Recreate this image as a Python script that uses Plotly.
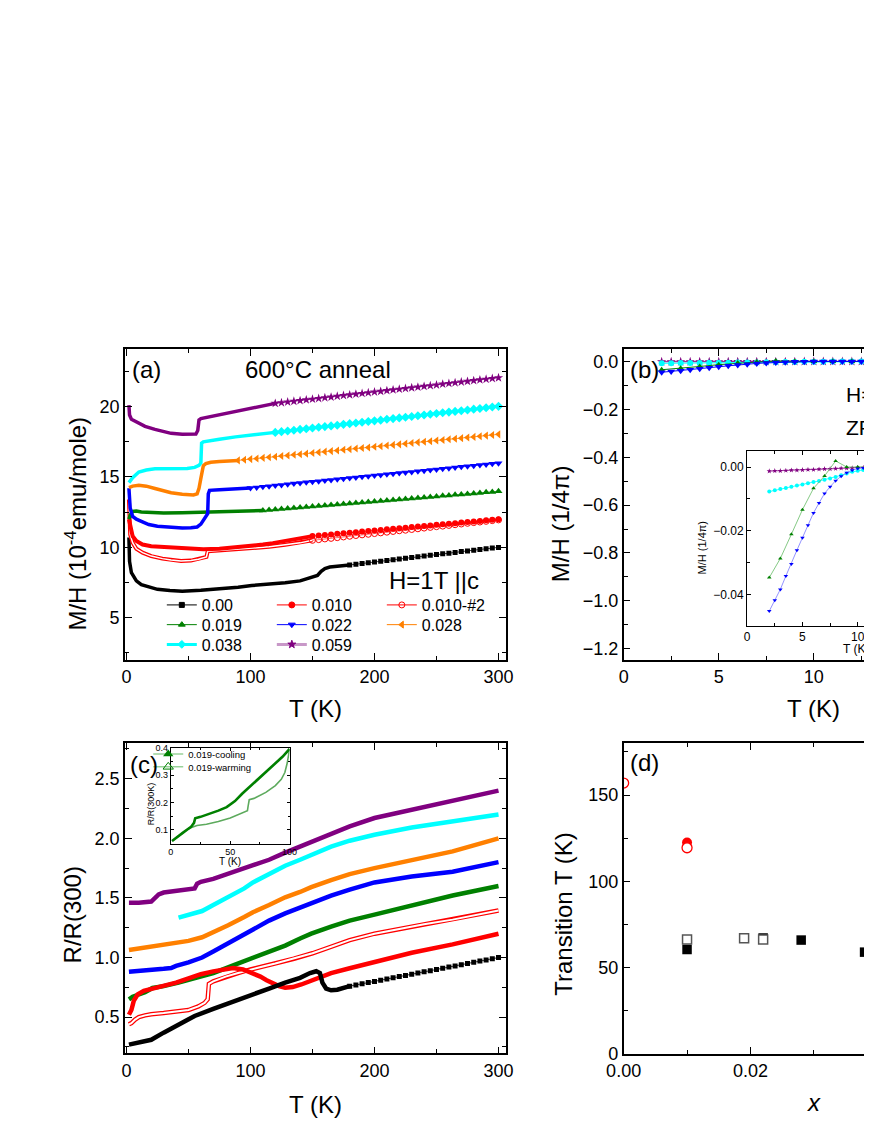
import plotly.graph_objects as go

W, H = 872, 1128
FONT = "Liberation Sans, Arial, sans-serif"

# ---------------- (a) M/H vs T, H = 1 T || c ----------------
a_labels = ["0.00", "0.010", "0.010-#2", "0.019", "0.022", "0.028", "0.038", "0.059"]

# dense low-T parts
a_t_000 = [2, 2.5, 4, 8, 12, 18, 25, 35, 45, 60, 75, 90, 101, 115, 128, 140, 149, 154, 157, 160, 164, 170, 180]
a_m_000 = [10.7, 9.0, 8.2, 7.62, 7.35, 7.17, 7.02, 6.93, 6.88, 6.95, 7.05, 7.16, 7.29, 7.38, 7.48, 7.62, 7.85, 8.0, 8.3, 8.5, 8.6, 8.68, 8.75]
a_t_010 = [2, 3, 5, 8, 13, 20, 36, 50, 62, 75, 90, 101, 110, 118, 124, 128, 134, 140, 148, 150]
a_m_010 = [12.0, 11.5, 10.8, 10.45, 10.2, 10.08, 9.98, 9.9, 9.86, 9.9, 10.0, 10.12, 10.2, 10.3, 10.4, 10.46, 10.58, 10.68, 10.76, 10.8]
a_t_010b = [2, 2.5, 3, 5, 8, 13, 20, 29, 36, 44, 52, 58, 62.5, 64.5, 65.5, 75, 90, 101, 115, 128, 140, 150]
a_m_010b = [13.4, 11.3, 10.9, 10.33, 9.9, 9.63, 9.38, 9.2, 9.1, 9.04, 9.06, 9.15, 9.27, 9.32, 9.72, 9.78, 9.85, 9.92, 10.04, 10.18, 10.32, 10.5]
a_t_019 = [2, 3, 5, 8, 12, 20, 30, 45, 60, 75, 90, 100, 110]
a_m_019 = [12.0, 12.3, 12.55, 12.58, 12.52, 12.47, 12.45, 12.46, 12.5, 12.53, 12.56, 12.59, 12.62]
a_t_022 = [2, 2.5, 3, 5, 8, 12, 18, 25, 36, 45, 52, 57, 60, 62.5, 64.5, 65.5, 66, 67, 75, 85, 100]
a_m_022 = [14.2, 13.2, 12.8, 12.2, 12.0, 11.85, 11.62, 11.5, 11.4, 11.38, 11.4, 11.45, 11.65, 11.96, 12.3, 12.4, 13.8, 14.05, 14.1, 14.15, 14.22]
a_t_028 = [2, 5, 10, 16, 23, 30, 36, 45, 54, 57, 58.5, 60, 61, 62, 64, 68, 75, 82, 90]
a_m_028 = [14.25, 14.35, 14.42, 14.35, 14.18, 14.0, 13.88, 13.78, 13.72, 13.8, 14.2, 14.9, 15.4, 15.8, 15.95, 16.05, 16.1, 16.14, 16.18]
a_t_038 = [2, 5, 10, 16, 23, 35, 49, 55, 58.5, 60, 60.6, 62, 68, 75, 88, 101, 112, 120]
a_m_038 = [14.6, 14.95, 15.35, 15.5, 15.58, 15.58, 15.6, 15.68, 15.82, 16.0, 17.4, 17.5, 17.6, 17.68, 17.85, 18.0, 18.1, 18.17]
a_t_059 = [2, 2.5, 4, 7, 10, 15, 23, 30, 36, 45, 52, 56, 57.5, 58.5, 60, 68, 75, 88, 101, 112, 120]
a_m_059 = [20.1, 19.4, 19.1, 18.95, 18.85, 18.6, 18.38, 18.2, 18.1, 18.03, 18.02, 18.05, 18.3, 19.05, 19.15, 19.3, 19.44, 19.68, 19.9, 20.1, 20.23]

# sparse high-T parts (one point every 5 K)
a_ts_000 = list(range(180, 301, 5))
a_ms_000 = [8.75, 8.80, 8.85, 8.91, 8.96, 9.01, 9.07, 9.12, 9.18, 9.23, 9.28, 9.33, 9.39, 9.44, 9.49,
            9.54, 9.59, 9.64, 9.70, 9.75, 9.80, 9.85, 9.90, 9.95, 10.0]
a_ts_010 = list(range(150, 301, 5))
a_ms_010 = [10.80, 10.84, 10.88, 10.92, 10.96, 11.00, 11.04, 11.08, 11.12, 11.16, 11.20, 11.24, 11.28, 11.32,
            11.36, 11.40, 11.44, 11.48, 11.52, 11.56, 11.60, 11.64, 11.68, 11.72, 11.76, 11.80, 11.84, 11.88,
            11.92, 11.96, 12.0]
a_ts_010b = list(range(150, 301, 5))
a_ms_010b = [10.50, 10.55, 10.60, 10.64, 10.69, 10.74, 10.79, 10.84, 10.89, 10.93, 10.98, 11.03, 11.08, 11.13,
             11.18, 11.22, 11.27, 11.32, 11.37, 11.42, 11.47, 11.51, 11.56, 11.61, 11.66, 11.71, 11.76, 11.80,
             11.85, 11.90, 11.95]
a_ts_019 = list(range(110, 301, 5))
a_ms_019 = [12.62, 12.66, 12.69, 12.73, 12.76, 12.80, 12.83, 12.87, 12.91, 12.94, 12.98, 13.01, 13.05, 13.08,
            13.12, 13.16, 13.19, 13.23, 13.26, 13.30, 13.33, 13.37, 13.41, 13.44, 13.48, 13.51, 13.55, 13.58,
            13.62, 13.66, 13.69, 13.73, 13.76, 13.80, 13.83, 13.87, 13.91, 13.94, 13.98]
a_ts_022 = list(range(100, 301, 5))
a_ms_022 = [14.22, 14.26, 14.31, 14.35, 14.40, 14.44, 14.48, 14.53, 14.57, 14.62, 14.66, 14.70, 14.75, 14.79,
            14.84, 14.88, 14.92, 14.97, 15.01, 15.06, 15.10, 15.14, 15.19, 15.23, 15.28, 15.32, 15.36, 15.41,
            15.45, 15.50, 15.54, 15.58, 15.63, 15.67, 15.72, 15.76, 15.80, 15.85, 15.89, 15.94, 15.98]
a_ts_028 = list(range(90, 301, 5))
a_ms_028 = [16.18, 16.22, 16.27, 16.31, 16.36, 16.40, 16.44, 16.49, 16.53, 16.58, 16.62, 16.66, 16.71, 16.75,
            16.80, 16.84, 16.88, 16.93, 16.97, 17.02, 17.06, 17.10, 17.15, 17.19, 17.24, 17.28, 17.32, 17.37,
            17.41, 17.46, 17.50, 17.54, 17.59, 17.63, 17.68, 17.72, 17.76, 17.81, 17.85, 17.90, 17.94, 17.98, 18.03]
a_ts_038 = list(range(120, 301, 5))
a_ms_038 = [18.17, 18.22, 18.27, 18.32, 18.38, 18.43, 18.48, 18.53, 18.58, 18.63, 18.68, 18.74, 18.79, 18.84,
            18.89, 18.94, 18.99, 19.04, 19.10, 19.15, 19.20, 19.25, 19.30, 19.35, 19.40, 19.46, 19.51, 19.56,
            19.61, 19.66, 19.71, 19.76, 19.82, 19.87, 19.92, 19.97, 20.02]
a_ts_059 = list(range(120, 301, 5))
a_ms_059 = [20.23, 20.28, 20.33, 20.38, 20.43, 20.48, 20.53, 20.58, 20.63, 20.68, 20.74, 20.79, 20.84, 20.89,
            20.94, 20.99, 21.04, 21.09, 21.14, 21.19, 21.24, 21.29, 21.34, 21.39, 21.44, 21.49, 21.54, 21.60,
            21.65, 21.70, 21.75, 21.80, 21.85, 21.90, 21.95, 22.00, 22.05]

# ---------------- (b) ZF M/H (1/4pi) vs T ----------------
b_t = [2.0, 2.5, 3.0, 3.5, 4.0, 4.5, 5.0, 5.5, 6.0, 6.5, 7.0, 7.5, 8.0, 8.5, 9.0, 9.5, 10.0,
       10.5, 11.0, 11.5, 12.0, 12.5, 13.0, 13.5]
b_t_019 = [2, 3, 4, 5, 6, 7, 8, 9, 10, 11, 12, 13]
b_m_019 = [-0.0347, -0.0287, -0.0211, -0.0134, -0.0067, -0.0028, 0.0019, 0.0, 0.0, 0.0, 0.0, 0.0]
b_m_022 = [-0.0452, -0.0418, -0.0384, -0.0342, -0.0304, -0.0261, -0.0222, -0.0183, -0.0144, -0.0113,
           -0.0083, -0.0062, -0.0043, -0.0029, -0.0018, -0.0010, -0.0005, -0.0003, -0.0002, -0.0001,
           -0.0001, 0.0, 0.0, 0.0]
b_m_038 = [-0.0077, -0.0073, -0.0069, -0.0066, -0.0062, -0.0058, -0.0055, -0.0051, -0.0047, -0.0044,
           -0.0040, -0.0036, -0.0031, -0.0026, -0.0020, -0.0015, -0.0012, -0.0009, -0.0007, -0.0005,
           -0.0004, -0.0003, -0.0002, -0.0001]
b_m_059 = [-0.0013, -0.0012, -0.0012, -0.0011, -0.0010, -0.0010, -0.0009, -0.0008, -0.0008, -0.0007,
           -0.0006, -0.0006, -0.0005, -0.0004, -0.0004, -0.0003, -0.0002, -0.0002, -0.0001, -0.0001,
           -0.0001, 0.0, 0.0, 0.0]

# ---------------- (c) R/R(300) vs T ----------------
c_t_000 = [2, 10, 20, 30, 42, 55, 70, 85, 101, 115, 128, 140, 148, 153, 156, 158, 161, 165, 170, 175, 180]
c_r_000 = [0.27, 0.285, 0.31, 0.37, 0.44, 0.51, 0.57, 0.63, 0.69, 0.74, 0.79, 0.83, 0.87, 0.885, 0.87,
           0.79, 0.74, 0.725, 0.73, 0.745, 0.76]
c_ts_000 = list(range(180, 301, 5))
c_rs_000 = [0.76, 0.77, 0.78, 0.79, 0.80, 0.81, 0.82, 0.83, 0.84, 0.85, 0.86, 0.87, 0.88, 0.89, 0.90,
            0.91, 0.92, 0.93, 0.94, 0.95, 0.96, 0.97, 0.98, 0.99, 1.00]
c_t_010 = [2, 4, 6, 9, 14, 20, 29, 40, 50, 60, 70, 78, 86, 94, 102, 108, 113, 118, 123, 128, 134, 141,
           148, 154, 165, 180, 200, 230, 263, 300]
c_r_010 = [0.52, 0.56, 0.64, 0.69, 0.72, 0.74, 0.76, 0.79, 0.83, 0.86, 0.884, 0.90, 0.912, 0.90, 0.87,
           0.84, 0.81, 0.78, 0.76, 0.747, 0.752, 0.774, 0.80, 0.83, 0.87, 0.91, 0.965, 1.04, 1.11, 1.20]
c_t_010b = [2, 4, 7, 10, 15, 20, 30, 40, 50, 58, 63, 65.5, 66.5, 70, 80, 90, 100, 110, 120, 135, 150,
            165, 180, 200, 220, 240, 263, 280, 300]
c_r_010b = [0.44, 0.45, 0.48, 0.50, 0.515, 0.525, 0.535, 0.545, 0.56, 0.59, 0.62, 0.65, 0.78, 0.80, 0.84,
            0.87, 0.90, 0.925, 0.95, 0.99, 1.036, 1.09, 1.146, 1.20, 1.24, 1.28, 1.318, 1.355, 1.395]
c_t_019 = [2, 5, 10, 15, 21, 30, 42, 55, 70, 85, 102, 115, 128, 140, 149, 165, 180, 200, 230, 263, 300]
c_r_019 = [0.65, 0.67, 0.69, 0.71, 0.745, 0.76, 0.79, 0.83, 0.87, 0.93, 0.995, 1.05, 1.10, 1.16, 1.20,
           1.26, 1.31, 1.36, 1.44, 1.52, 1.60]
c_t_022 = [2, 10, 20, 30, 36, 40, 50, 61, 70, 82, 95, 102, 115, 128, 140, 149, 165, 180, 200, 230, 263, 300]
c_r_022 = [0.88, 0.885, 0.895, 0.905, 0.912, 0.93, 0.96, 1.0, 1.05, 1.12, 1.20, 1.24, 1.31, 1.37, 1.42,
           1.46, 1.52, 1.57, 1.63, 1.68, 1.72, 1.80]
c_t_028 = [2, 20, 40, 50, 61, 70, 82, 95, 102, 115, 128, 140, 149, 165, 180, 200, 230, 263, 300]
c_r_028 = [1.064, 1.09, 1.12, 1.14, 1.17, 1.21, 1.27, 1.34, 1.38, 1.44, 1.505, 1.55, 1.59, 1.65, 1.70,
           1.75, 1.82, 1.89, 2.0]
c_t_038 = [42, 50, 61, 70, 82, 95, 102, 115, 128, 140, 149, 165, 180, 200, 230, 263, 300]
c_r_038 = [1.334, 1.36, 1.39, 1.44, 1.505, 1.58, 1.63, 1.70, 1.77, 1.82, 1.86, 1.93, 1.98, 2.03, 2.09,
           2.14, 2.20]
c_t_059 = [2, 10, 20, 23, 26, 30, 40, 50, 55, 57, 60, 70, 85, 102, 115, 128, 140, 149, 165, 180, 200,
           230, 263, 300]
c_r_059 = [1.46, 1.46, 1.47, 1.50, 1.53, 1.545, 1.56, 1.57, 1.58, 1.62, 1.635, 1.66, 1.71, 1.77, 1.82,
           1.88, 1.93, 1.97, 2.04, 2.10, 2.17, 2.24, 2.31, 2.40]

# inset of (c): x = 0.019 cooling / warming
ci_t_cool = [1, 5, 10, 15, 17, 19.5, 20.5, 25, 33, 40, 47, 54, 60, 67, 74, 80, 87, 94, 100]
ci_r_cool = [0.058, 0.07, 0.088, 0.104, 0.11, 0.125, 0.142, 0.147, 0.158, 0.17, 0.183, 0.205, 0.232,
             0.26, 0.29, 0.313, 0.34, 0.368, 0.397]
ci_t_warm = [1, 5, 10, 15, 18, 22, 30, 40, 50, 58, 64.5, 65, 66, 70, 75, 80, 88, 93, 96, 98, 100]
ci_r_warm = [0.058, 0.07, 0.088, 0.104, 0.11, 0.115, 0.12, 0.13, 0.143, 0.157, 0.17, 0.185, 0.21, 0.215,
             0.225, 0.237, 0.262, 0.285, 0.31, 0.345, 0.397]

# ---------------- (d) transition temperature vs x ----------------
d_x_red_open = [0.0, 0.010]
d_t_red_open = [157, 119.5]
d_x_red = [0.010]
d_t_red = [122.5]
d_x_sq = [0.010, 0.022, 0.028, 0.038]
d_t_sq = [60.5, 67.2, 66.0, 59.0]
d_x_sq_open = [0.010, 0.019, 0.022]
d_t_sq_open = [66.3, 67.0, 66.3]

BLACK, RED, GREEN, BLUE = "#000000", "#FF0000", "#008000", "#0000FF"
ORANGE, CYAN, PURPLE = "#FF8000", "#00FFFF", "#800080"


def fx(p):
    return p / W


def fy(p):
    return 1 - p / H


fig = go.Figure()


def dense(x, y, xa, ya, color, width):
    fig.add_trace(go.Scatter(x=x, y=y, xaxis=xa, yaxis=ya, mode="lines", showlegend=False,
                             line=dict(color=color, width=width)))


def sparse(x, y, xa, ya, color, symbol, size, lw=0.8):
    fig.add_trace(go.Scatter(x=x, y=y, xaxis=xa, yaxis=ya, mode="lines+markers", showlegend=False,
                             line=dict(color=color, width=lw),
                             marker=dict(symbol=symbol, size=size, color=color, line=dict(width=0))))


def key(name, legend, color, symbol, size, lw=1.0, lcolor=None):
    fig.add_trace(go.Scatter(x=[None], y=[None], xaxis="x", yaxis="y", mode="lines+markers", name=name,
                             legend=legend, line=dict(color=lcolor or color, width=lw),
                             marker=dict(symbol=symbol, size=size, color=color,
                                         line=dict(color=color, width=1))))


# ---- (a)
dense(a_t_000, a_m_000, "x", "y", BLACK, 3.5)
sparse(a_ts_000, a_ms_000, "x", "y", BLACK, "square", 5)
dense(a_t_010b, a_m_010b, "x", "y", RED, 4)
dense(a_t_010b, a_m_010b, "x", "y", "white", 1.5)
fig.add_trace(go.Scatter(x=a_ts_010b, y=a_ms_010b, mode="lines+markers", showlegend=False,
                         line=dict(color=RED, width=0.6),
                         marker=dict(symbol="circle-open", size=6, color=RED, line=dict(width=1))))
dense(a_t_010, a_m_010, "x", "y", RED, 4)
sparse(a_ts_010, a_ms_010, "x", "y", RED, "circle", 6)
dense(a_t_019, a_m_019, "x", "y", GREEN, 3.5)
sparse(a_ts_019, a_ms_019, "x", "y", GREEN, "triangle-up", 7)
dense(a_t_022, a_m_022, "x", "y", BLUE, 3.5)
sparse(a_ts_022, a_ms_022, "x", "y", BLUE, "triangle-down", 7)
dense(a_t_028, a_m_028, "x", "y", ORANGE, 3.5)
sparse(a_ts_028, a_ms_028, "x", "y", ORANGE, "triangle-left", 7)
dense(a_t_038, a_m_038, "x", "y", CYAN, 3.5)
sparse(a_ts_038, a_ms_038, "x", "y", CYAN, "diamond", 7)
dense(a_t_059, a_m_059, "x", "y", PURPLE, 3.5)
sparse(a_ts_059, a_ms_059, "x", "y", PURPLE, "star", 7)

key(a_labels[0], "legend", BLACK, "square", 5)
key(a_labels[1], "legend", RED, "circle", 6)
key(a_labels[2], "legend", RED, "circle-open", 6)
key(a_labels[3], "legend2", GREEN, "triangle-up", 6)
key(a_labels[4], "legend2", BLUE, "triangle-down", 6)
key(a_labels[5], "legend2", ORANGE, "triangle-left", 6)
key(a_labels[6], "legend3", CYAN, "diamond", 6, lw=3)
key(a_labels[7], "legend3", PURPLE, "star", 6, lw=3, lcolor="#C898C8")

# ---- (b) main
b_series = [
    (b_t, b_m_059, PURPLE, "star", 7),
    (b_t, b_m_038, CYAN, "circle", 6),
    (b_t_019, b_m_019, GREEN, "triangle-up", 6),
    (b_t, b_m_022, BLUE, "triangle-down", 7),
]
for t, m, col, sym, sz in b_series:
    sparse(t, m, "x2", "y2", col, sym, sz, lw=1)
# ---- (b) inset
bi_lines = {PURPLE: PURPLE, CYAN: CYAN, GREEN: "#66BB66", BLUE: "#7777FF"}
for t, m, col, sym, sz in b_series:
    fig.add_trace(go.Scatter(x=t, y=m, xaxis="x3", yaxis="y3", mode="lines+markers", showlegend=False,
                             line=dict(color=bi_lines[col], width=0.8),
                             marker=dict(symbol=sym, size=4, color=col, line=dict(width=0))))

# ---- (c)
dense(c_t_059, c_r_059, "x4", "y4", PURPLE, 4.5)
dense(c_t_038, c_r_038, "x4", "y4", CYAN, 4.5)
dense(c_t_028, c_r_028, "x4", "y4", ORANGE, 4.5)
dense(c_t_022, c_r_022, "x4", "y4", BLUE, 4.5)
dense(c_t_019, c_r_019, "x4", "y4", GREEN, 4.5)
dense(c_t_010b, c_r_010b, "x4", "y4", RED, 4.5)
dense(c_t_010b, c_r_010b, "x4", "y4", "white", 2)
dense(c_t_010, c_r_010, "x4", "y4", RED, 4.5)
dense(c_t_000, c_r_000, "x4", "y4", BLACK, 4.5)
sparse(c_ts_000, c_rs_000, "x4", "y4", BLACK, "square", 5)

# ---- (c) inset
fig.add_trace(go.Scatter(x=ci_t_warm, y=ci_r_warm, xaxis="x5", yaxis="y5", mode="lines", showlegend=False,
                         line=dict(color="#5DAA5D", width=1.6)))
fig.add_trace(go.Scatter(x=ci_t_cool, y=ci_r_cool, xaxis="x5", yaxis="y5", mode="lines", showlegend=False,
                         line=dict(color=GREEN, width=2.6)))
fig.add_trace(go.Scatter(x=[None], y=[None], xaxis="x5", yaxis="y5", mode="lines+markers",
                         name="0.019-cooling", legend="legend4", line=dict(color="#66BB66", width=1),
                         marker=dict(symbol="triangle-up", size=9, color=GREEN)))
fig.add_trace(go.Scatter(x=[None], y=[None], xaxis="x5", yaxis="y5", mode="lines+markers",
                         name="0.019-warming", legend="legend5", line=dict(color="#66BB66", width=1),
                         marker=dict(symbol="triangle-up-open", size=9, color=GREEN)))

# ---- (d)
fig.add_trace(go.Scatter(x=d_x_red, y=d_t_red, xaxis="x6", yaxis="y6", mode="markers", showlegend=False,
                         marker=dict(symbol="circle", size=10, color=RED, line=dict(width=0))))
fig.add_trace(go.Scatter(x=d_x_red_open, y=d_t_red_open, xaxis="x6", yaxis="y6", mode="markers",
                         showlegend=False,
                         marker=dict(symbol="circle", size=10, color="white", line=dict(color=RED, width=1.3))))
fig.add_trace(go.Scatter(x=d_x_sq, y=d_t_sq, xaxis="x6", yaxis="y6", mode="markers", showlegend=False,
                         marker=dict(symbol="square", size=9.5, color=BLACK, line=dict(width=0))))
fig.add_trace(go.Scatter(x=d_x_sq_open, y=d_t_sq_open, xaxis="x6", yaxis="y6", mode="markers",
                         showlegend=False,
                         marker=dict(symbol="square", size=9, color="white", line=dict(color="#555555", width=1.5))))


def axis(domain, rng, dtick, minor, anchor, size=18, fmt=None, mirror="allticks", tl=7, lw=1.5):
    d = dict(domain=domain, range=rng, dtick=dtick, tick0=0, anchor=anchor, showline=True,
             linecolor="black", linewidth=lw, ticks="inside", ticklen=tl, tickwidth=1.2, tickcolor="black",
             mirror=mirror, showgrid=False, zeroline=False,
             tickfont=dict(family=FONT, size=size, color="black"),
             minor=dict(dtick=minor, tick0=0, ticks="inside", ticklen=tl * 0.6, tickwidth=1,
                        tickcolor="black", showgrid=False))
    if fmt:
        d["tickformat"] = fmt
    return d


A_X = [fx(102), fx(494.7)]
A_Y = [fy(655.7), fy(341)]
B_X = [fx(616), 1.0]
BI_X = [fx(743.3), 1.0]
BI_Y = [fy(621), fy(444.3)]
C_Y = [fy(1054.3), fy(740)]
CI_X = [fx(149.3), fx(271.7)]
CI_Y = [fy(841.7), fy(745)]
D_Y = [fy(1055), fy(740)]


def leg(x, y, size):
    return dict(x=x, y=y, xanchor="left", yanchor="middle", orientation="h", entrywidth=65,
                bgcolor="rgba(0,0,0,0)", font=dict(family=FONT, size=size, color="black"),
                itemclick=False, itemdoubleclick=False)


def note(text, x, y, size, xanchor="left", angle=0, italic=False):
    if italic:
        text = "<i>" + text + "</i>"
    return dict(text=text, x=fx(x), y=fy(y), xref="paper", yref="paper", xanchor=xanchor, yanchor="middle",
                showarrow=False, textangle=angle, font=dict(family=FONT, size=size, color="black"))


fig.update_layout(
    width=W, height=H, margin=dict(l=0, r=0, t=0, b=0),
    paper_bgcolor="white", plot_bgcolor="rgba(0,0,0,0)",
    font=dict(family=FONT, color="black"), hovermode=False,
    xaxis=axis(A_X, [-1.2, 306], 100, 50, "y"),
    yaxis=axis(A_Y, [2.0, 24.06], 5, 2.5, "x"),
    xaxis2=axis(B_X, [0, 13.06], 5, 2.5, "y2"),
    yaxis2=axis(A_Y, [-1.247, 0.05], 0.2, 0.1, "x2", fmt=".1f", mirror=False),
    xaxis3=axis(BI_X, [0, 11.29], 5, 2.5, "y3", size=12, tl=4, lw=1.2),
    yaxis3=axis(BI_Y, [-0.0498, 0.0049], 0.02, 0.01, "x3", size=12, fmt=".2f", mirror=False, tl=4, lw=1.2),
    xaxis4=axis(A_X, [-1.2, 306], 100, 50, "y4"),
    yaxis4=axis(C_Y, [0.197, 2.798], 0.5, 0.25, "x4", fmt=".1f"),
    xaxis5=axis(CI_X, [0, 100], 50, 25, "y5", size=9, tl=3, lw=1),
    yaxis5=axis(CI_Y, [0.049, 0.4], 0.1, 0.05, "x5", size=9, fmt=".1f", tl=3, lw=1),
    xaxis6=axis(B_X, [0, 0.03917], 0.02, 0.01, "y6", fmt=".2f"),
    yaxis6=axis(D_Y, [0, 180.1], 50, 25, "x6", mirror=False),
    legend=leg(fx(140), fy(600), 16),
    legend2=leg(fx(140), fy(620), 16),
    legend3=leg(fx(140), fy(640), 16),
    legend4=leg(fx(126), fy(751), 9.5),
    legend5=leg(fx(126), fy(764), 9.5),
    annotations=[
        note("(a)", 107, 361.7, 24),
        note("600°C anneal", 301, 361.7, 24, xanchor="center"),
        note("H=1T ||c", 372, 575, 24),
        note("M/H (10<sup>-4</sup>emu/mole)", 52, 517, 24, xanchor="center", angle=-90),
        note("T (K)", 298, 705, 24, xanchor="center"),
        note("(b)", 620, 361.7, 24),
        note("H=", 843, 387, 21),
        note("ZF", 843, 420, 21),
        note("M/H (1/4π)", 550.5, 518, 24, xanchor="center", angle=-90),
        note("T (K)", 812, 705, 24, xanchor="center"),
        note("M/H (1/4π)", 697.7, 541.7, 11, xanchor="center", angle=-90),
        note("T (K)", 855, 645, 12, xanchor="center"),
        note("(c)", 105, 761.7, 24),
        note("R/R(300)", 48, 914, 24, xanchor="center", angle=-90),
        note("T (K)", 298, 1106, 24, xanchor="center"),
        note("R/R(300K)", 129, 801.7, 9, xanchor="center", angle=-90),
        note("T (K)", 210.7, 860, 10, xanchor="center"),
        note("(d)", 620, 760, 24),
        note("Transition T (K)", 554.5, 913, 24, xanchor="center", angle=-90),
        note("x", 812, 1104, 24, xanchor="center", italic=True),
    ],
)

fig.write_html("out.html")
